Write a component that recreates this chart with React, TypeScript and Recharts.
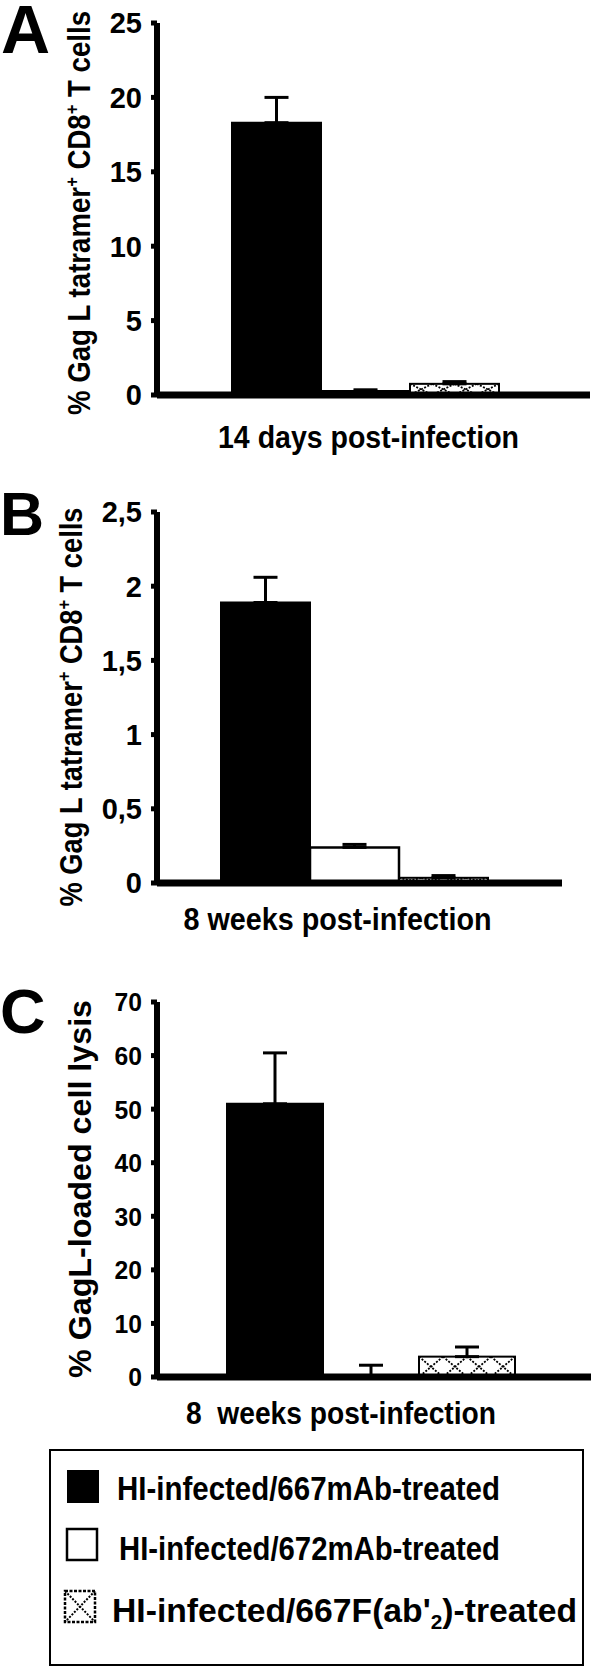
import React from 'react';
import { BarChart, Bar, XAxis, YAxis, ErrorBar } from 'recharts';

const FONT = "'Liberation Sans', Arial, Helvetica, sans-serif";

// ---------- data ----------
const seriesNames = [
  'HI-infected/667mAb-treated',
  'HI-infected/672mAb-treated',
  "HI-infected/667F(ab'2)-treated",
];

const categoryA = ['14 days post-infection'];
const valuesA = [18.3, 0.25, 0.75];
const errorsA = [1.7, 0.1, 0.15];
const ticksA = [0, 5, 10, 15, 20, 25];

const categoryB = ['8 weeks post-infection'];
const valuesB = [1.89, 0.24, 0.035];
const errorsB = [0.17, 0.02, 0.015];
const ticksB = [0, 0.5, 1, 1.5, 2, 2.5];

const categoryC = ['8  weeks post-infection'];
const valuesC = [51, 0.2, 3.8];
const errorsC = [9.5, 2.0, 1.8];
const ticksC = [0, 10, 20, 30, 40, 50, 60, 70];

const yLabelAB = ['% Gag L tatramer', '+', ' CD8', '+', ' T cells'];
const yLabelC = ['% GagL-loaded cell lysis'];

function buildRows(category: string[], values: number[], errors: number[]) {
  return category.map((name) => ({
    name,
    v0: values[0],
    v1: values[1],
    v2: values[2],
    e0: [0, errors[0]],
    e1: [0, errors[1]],
    e2: [0, errors[2]],
  }));
}

const dataA = buildRows(categoryA, valuesA, errorsA);
const dataB = buildRows(categoryB, valuesB, errorsB);
const dataC = buildRows(categoryC, valuesC, errorsC);

// ---------- shapes ----------
const HatchBar = (props: any) => {
  const { x, y, width, height } = props;
  if (!(height > 0) || !(width > 0)) return null;
  const n = 4;
  const w = width / n;
  const lines: any[] = [];
  for (let i = 0; i < n; i++) {
    const x0 = x + i * w;
    lines.push(
      <line key={'a' + i} x1={x0} y1={y} x2={x0 + w} y2={y + height} stroke="#000" strokeWidth={1.8} strokeDasharray="2 1.5" />
    );
    lines.push(
      <line key={'b' + i} x1={x0 + w} y1={y} x2={x0} y2={y + height} stroke="#000" strokeWidth={1.8} strokeDasharray="2 1.5" />
    );
  }
  return (
    <g>
      <rect x={x} y={y} width={width} height={height} fill="#fff" stroke="none" />
      {lines}
      <rect x={x} y={y} width={width} height={height} fill="none" stroke="#000" strokeWidth={2} />
    </g>
  );
};

function renderSideLabel(cfg: any) {
  return () => (
    <g>
      <text x={cfg.letterX} y={cfg.letterY} fontSize={cfg.letterSize} fontWeight="bold" fontFamily={FONT} fill="#000">
        {cfg.letter}
      </text>
      <text
        transform={`translate(${cfg.lx},${cfg.ly}) rotate(-90)`}
        textAnchor="middle"
        fontSize={cfg.lsize}
        fontWeight="bold"
        fontFamily={FONT}
        fill="#000"
        textLength={cfg.llen}
        lengthAdjust="spacingAndGlyphs"
      >
        {cfg.parts.map((p: string, i: number) =>
          p === '+' ? (
            <tspan key={i} dy={-cfg.lsize * 0.4} fontSize={cfg.lsize * 0.6}>
              +
            </tspan>
          ) : (
            <tspan key={i} dy={i === 0 ? 0 : cfg.lsize * 0.4}>
              {p}
            </tspan>
          )
        )}
      </text>
    </g>
  );
}

function makeXTick(dx: number, baseline: number, size: number, len: number) {
  return (props: any) => (
    <text
      x={props.x + dx}
      y={baseline}
      textAnchor="middle"
      fontSize={size}
      fontWeight="bold"
      fontFamily={FONT}
      fill="#000"
      textLength={len}
      lengthAdjust="spacingAndGlyphs"
      style={{ whiteSpace: 'pre' }}
    >
      {props.payload.value}
    </text>
  );
}

function makeYTick(size: number, sx: number, fmt?: (v: number) => string) {
  return (props: any) => {
    const { x, y, payload } = props;
    const label = fmt ? fmt(payload.value) : String(payload.value);
    return (
      <text
        transform={`translate(${x},${y}) scale(${sx},1)`}
        textAnchor="end"
        dy="0.36em"
        fontSize={size}
        fontWeight="bold"
        fontFamily={FONT}
        fill="#000"
      >
        {label}
      </text>
    );
  };
}

function Panel(p: any) {
  return (
    <div style={{ position: 'absolute', left: 0, top: p.top, width: 600, height: p.height }}>
      <BarChart
        width={600}
        height={p.height}
        data={p.data}
        margin={p.margin}
        barGap={0}
        barCategoryGap={p.gap}
      >
        <XAxis
          dataKey="name"
          height={30}
          padding={{ left: 0, right: p.padRight }}
          axisLine={{ stroke: '#000', strokeWidth: 7 }}
          tickLine={false}
          tick={makeXTick(p.xDx, p.xBaseline, p.xSize, p.xLen)}
        />
        <YAxis
          width={60}
          domain={p.domain}
          ticks={p.ticks}
          interval={0}
          allowDataOverflow
          axisLine={{ stroke: '#000', strokeWidth: 6 }}
          tickLine={{ stroke: '#000', strokeWidth: 5 }}
          tickSize={6}
          tickMargin={9}
          tick={makeYTick(p.tickFont, p.tickScale, p.fmt)}
          label={renderSideLabel(p.side)}
        />
        <Bar dataKey="v0" name={seriesNames[0]} fill="#000" stroke="#000" strokeWidth={2} isAnimationActive={false}>
          <ErrorBar dataKey="e0" direction="y" width={12} stroke="#000" strokeWidth={3} />
        </Bar>
        <Bar dataKey="v1" name={seriesNames[1]} fill="#fff" stroke="#000" strokeWidth={2.5} isAnimationActive={false}>
          <ErrorBar dataKey="e1" direction="y" width={12} stroke="#000" strokeWidth={3} />
        </Bar>
        <Bar dataKey="v2" name={seriesNames[2]} fill="#fff" shape={HatchBar} isAnimationActive={false}>
          <ErrorBar dataKey="e2" direction="y" width={12} stroke="#000" strokeWidth={3} />
        </Bar>
      </BarChart>
    </div>
  );
}

const fmtComma = (v: number) => String(v).replace('.', ',');

function LegendSwatch({ i, x, y }: any) {
  if (i === 0) return <rect x={x} y={y} width={32} height={33} fill="#000" />;
  if (i === 1) return <rect x={x + 1} y={y + 1} width={30} height={31} fill="#fff" stroke="#000" strokeWidth={2.5} />;
  return (
    <g>
      <rect x={x + 1} y={y + 1} width={30} height={31} fill="#fff" stroke="#000" strokeWidth={2.5} strokeDasharray="3 1.5" />
      <line x1={x + 1} y1={y + 1} x2={x + 31} y2={y + 32} stroke="#000" strokeWidth={2} strokeDasharray="2 1.5" />
      <line x1={x + 31} y1={y + 1} x2={x + 1} y2={y + 32} stroke="#000" strokeWidth={2} strokeDasharray="2 1.5" />
    </g>
  );
}

function Legend() {
  const rows = [
    { sx: 67, sy: 30, tx: 117, ty: 60, len: 383 },
    { sx: 66, sy: 88, tx: 119, ty: 120, len: 381 },
    { sx: 64, sy: 150, tx: 112, ty: 182, len: 465 },
  ];
  return (
    <svg width={600} height={227} style={{ position: 'absolute', left: 0, top: 1440 }}>
      <rect x={50} y={10} width={533} height={215} fill="#fff" stroke="#000" strokeWidth={2} />
      {seriesNames.map((name, i) => (
        <g key={name}>
          <LegendSwatch i={i} x={rows[i].sx} y={rows[i].sy} />
          <text
            x={rows[i].tx}
            y={rows[i].ty}
            fontSize={34}
            fontWeight="bold"
            fontFamily={FONT}
            fill="#000"
            textLength={rows[i].len}
            lengthAdjust="spacingAndGlyphs"
          >
            {i === 2 ? (
              <>
                <tspan>HI-infected/667F(ab'</tspan>
                <tspan dy={7} fontSize={21}>2</tspan>
                <tspan dy={-7}>)-treated</tspan>
              </>
            ) : (
              name
            )}
          </text>
        </g>
      ))}
    </svg>
  );
}

export default function App() {
  return (
    <div style={{ position: 'absolute', left: 0, top: 0, width: 600, height: 1667, background: '#fff' }}>
      <Panel
        top={0}
        height={460}
        data={dataA}
        ticks={ticksA}
        domain={[0, 25]}
        margin={{ top: 23, right: 10, bottom: 35, left: 97 }}
        gap={75}
        padRight={16}
        tickFont={29}
        tickScale={1}
        xDx={3}
        xBaseline={448}
        xSize={31}
        xLen={301}
        side={{ letter: 'A', letterX: 1, letterY: 53, letterSize: 68, lx: 90, ly: 213, lsize: 31, llen: 404, parts: yLabelAB }}
      />
      <Panel
        top={460}
        height={490}
        data={dataB}
        ticks={ticksB}
        domain={[0, 2.5]}
        margin={{ top: 52, right: 38, bottom: 37, left: 97 }}
        gap={64}
        padRight={10}
        tickFont={29}
        tickScale={1}
        fmt={fmtComma}
        xDx={-17}
        xBaseline={470}
        xSize={31}
        xLen={308}
        side={{ letter: 'B', letterX: 0, letterY: 75, letterSize: 61, lx: 82, ly: 247, lsize: 31, llen: 399, parts: yLabelAB }}
      />
      <Panel
        top={950}
        height={490}
        data={dataC}
        ticks={ticksC}
        domain={[0, 70]}
        margin={{ top: 52, right: 9, bottom: 33, left: 97 }}
        gap={70}
        padRight={6}
        tickFont={26}
        tickScale={0.95}
        xDx={-30}
        xBaseline={474}
        xSize={31}
        xLen={310}
        side={{ letter: 'C', letterX: 0, letterY: 83, letterSize: 63, lx: 91, ly: 239, lsize: 32, llen: 378, parts: yLabelC }}
      />
      <Legend />
    </div>
  );
}
